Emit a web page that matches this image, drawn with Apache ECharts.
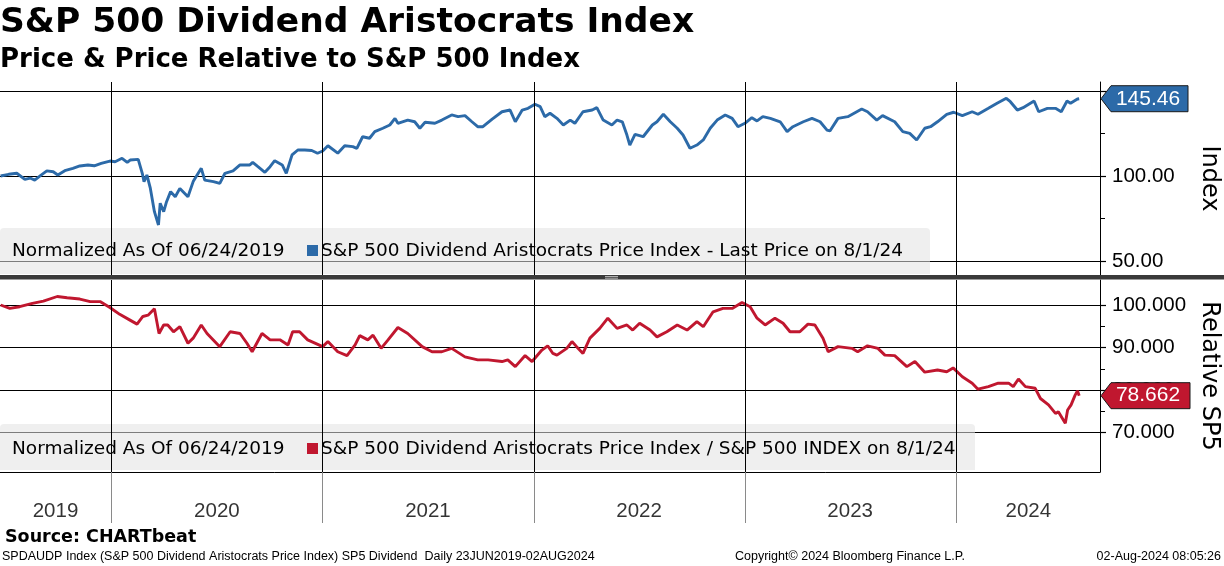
<!DOCTYPE html>
<html><head><meta charset="utf-8">
<script src="https://cdn.jsdelivr.net/npm/echarts@6/dist/echarts.min.js"></script>
<style>html,body{margin:0;padding:0;background:#fff}#c{width:1224px;height:566px}</style>
</head><body><div id="c"></div>
<script>
// ---------- DATA ----------
const priceDates = ['2019-06-24','2019-07-08','2019-07-22','2019-08-05','2019-08-14','2019-08-22','2019-09-02','2019-09-12','2019-09-23','2019-10-01','2019-10-13','2019-10-27','2019-11-08','2019-11-22','2019-12-03','2019-12-15','2019-12-30',
'2020-01-08','2020-01-20','2020-01-29','2020-02-03','2020-02-17','2020-02-24','2020-02-27','2020-03-03','2020-03-09','2020-03-16','2020-03-23','2020-03-26','2020-04-01','2020-04-06','2020-04-13','2020-04-21','2020-04-29','2020-05-13','2020-05-22','2020-06-05','2020-06-11','2020-06-26','2020-07-07','2020-07-16','2020-07-30','2020-08-11','2020-08-28','2020-09-02','2020-09-11','2020-09-23','2020-10-02','2020-10-10','2020-10-23','2020-10-30','2020-11-09','2020-11-19','2020-12-01','2020-12-13','2020-12-23',
'2021-01-01','2021-01-10','2021-01-27','2021-02-08','2021-02-22','2021-03-01','2021-03-11','2021-03-23','2021-04-01','2021-04-15','2021-04-27','2021-05-06','2021-05-11','2021-05-28','2021-06-09','2021-06-18','2021-06-27','2021-07-14','2021-07-26','2021-08-12','2021-08-23','2021-09-04','2021-09-16','2021-09-26','2021-10-05','2021-10-21','2021-11-07','2021-11-21','2021-11-30','2021-12-12','2021-12-22',
'2022-01-03','2022-01-12','2022-01-20','2022-01-29','2022-02-10','2022-02-21','2022-03-05','2022-03-13','2022-03-27','2022-04-12','2022-04-20','2022-05-01','2022-05-16','2022-05-25','2022-06-03','2022-06-11','2022-06-16','2022-06-25','2022-07-09','2022-07-25','2022-08-02','2022-08-13','2022-08-25','2022-09-06','2022-09-16','2022-09-28','2022-10-10','2022-10-21','2022-11-02','2022-11-14','2022-11-28','2022-12-10','2022-12-20',
'2023-01-01','2023-01-13','2023-01-22','2023-02-01','2023-02-14','2023-03-03','2023-03-15','2023-03-25','2023-04-12','2023-04-27','2023-05-11','2023-05-23','2023-05-28','2023-06-11','2023-06-28','2023-07-22','2023-08-01','2023-08-17','2023-08-27','2023-09-17','2023-10-01','2023-10-13','2023-10-25','2023-11-08','2023-11-18','2023-11-30','2023-12-16','2023-12-28',
'2024-01-12','2024-01-29','2024-02-08','2024-02-26','2024-03-12','2024-03-28','2024-04-04','2024-04-16','2024-04-26','2024-05-15','2024-05-23','2024-06-07','2024-06-21','2024-07-01','2024-07-11','2024-07-17','2024-07-29','2024-08-01'];
const priceValues = [100.0,101.0,101.6,98.0,98.8,97.6,100.5,103.0,102.5,100.6,103.1,104.5,105.9,106.5,106.0,107.4,108.8,
108.4,110.4,108.0,109.4,109.8,101.6,96.7,100.6,92.7,79.0,71.2,84.0,79.0,84.9,90.8,87.8,92.7,87.8,96.7,104.5,97.6,96.7,95.7,101.6,103.0,106.5,106.5,108.0,105.5,102.2,105.5,109.0,106.5,101.6,112.4,115.3,115.3,115.0,113.4,
114.7,117.8,113.4,117.8,117.3,116.3,123.1,122.2,126.1,128.1,130.0,133.9,131.0,132.9,131.9,128.1,131.6,131.0,132.9,135.9,134.9,135.5,131.9,129.0,129.0,133.5,137.8,138.8,131.9,138.8,139.8,
142.2,140.8,134.9,136.9,133.9,130.0,132.9,131.0,137.8,138.8,140.2,132.9,130.0,132.9,131.9,124.1,118.2,124.5,123.1,130.0,131.9,136.3,131.9,128.1,124.1,116.3,118.2,121.2,128.1,132.9,135.9,133.9,129.0,
131.0,134.3,132.4,134.9,133.9,131.9,126.1,129.0,131.9,133.9,131.9,127.0,126.5,133.9,134.9,139.4,137.8,132.9,135.5,131.9,126.1,125.1,121.2,128.1,129.0,131.9,136.3,137.5,
135.5,137.8,136.3,139.8,142.8,145.7,143.7,138.8,140.2,144.1,137.8,139.8,139.8,137.8,144.1,142.8,145.3,145.46];

const relDates = ['2019-06-24','2019-07-10','2019-07-27','2019-08-18','2019-09-06','2019-09-30','2019-10-17','2019-11-08','2019-11-26','2019-12-13','2019-12-30',
'2020-01-16','2020-02-02','2020-02-15','2020-02-25','2020-03-05','2020-03-16','2020-03-24','2020-04-01','2020-04-08','2020-04-18','2020-04-29','2020-05-13','2020-05-22','2020-06-05','2020-06-15','2020-07-07','2020-07-25','2020-08-11','2020-08-23','2020-09-01','2020-09-18','2020-10-02','2020-10-19','2020-11-02','2020-11-10','2020-11-22','2020-12-06',
'2021-01-01','2021-01-10','2021-01-27','2021-02-12','2021-02-26','2021-03-06','2021-03-20','2021-03-29','2021-04-12','2021-04-24','2021-05-11','2021-05-28','2021-06-22','2021-07-09','2021-07-26','2021-08-12','2021-09-04','2021-09-26','2021-10-14','2021-11-07','2021-11-17','2021-11-30','2021-12-17','2021-12-29',
'2022-01-15','2022-01-25','2022-02-03','2022-02-10','2022-02-27','2022-03-08','2022-03-16','2022-03-27','2022-04-08','2022-04-25','2022-05-09','2022-05-25','2022-06-11','2022-06-21','2022-07-03','2022-07-21','2022-08-02','2022-08-19','2022-09-06','2022-09-23','2022-10-10','2022-10-21','2022-11-07','2022-11-24','2022-12-10','2022-12-27',
'2023-01-10','2023-01-22','2023-02-05','2023-02-22','2023-03-08','2023-03-20','2023-04-06','2023-04-20','2023-05-02','2023-05-16','2023-05-25','2023-06-11','2023-07-05','2023-07-15','2023-08-01','2023-08-19','2023-08-31','2023-09-17','2023-10-08','2023-10-22','2023-11-08','2023-11-30','2023-12-16','2023-12-27',
'2024-01-12','2024-01-29','2024-02-08','2024-02-26','2024-03-14','2024-04-01','2024-04-09','2024-04-18','2024-04-30','2024-05-17','2024-05-26','2024-06-09','2024-06-21','2024-06-26','2024-07-08','2024-07-12','2024-07-18','2024-07-25','2024-07-29','2024-08-01'];
const relValues = [100.0,99.2,99.6,100.4,100.9,102.0,101.7,101.4,100.8,100.8,99.4,
97.8,96.5,95.5,97.3,97.6,99.1,93.3,95.3,95.3,93.7,94.9,91.0,92.2,95.3,93.3,90.2,93.7,93.3,91.0,89.0,93.3,91.8,91.8,90.6,93.7,93.7,91.8,
90.2,91.4,89.0,88.1,90.6,92.8,91.8,92.9,89.8,91.8,94.7,93.3,90.2,89.0,89.0,89.8,87.8,87.1,87.1,86.7,87.1,85.5,88.1,86.7,
89.4,90.4,88.6,88.2,89.8,91.4,90.2,88.6,92.2,94.5,96.9,94.5,95.3,94.1,95.7,94.1,92.5,93.7,95.3,94.1,96.1,94.9,98.4,99.2,99.2,100.6,
99.6,96.9,95.3,96.9,95.7,93.7,93.7,95.5,95.3,92.2,89.0,90.2,89.8,89.0,90.4,89.8,88.2,88.1,85.5,86.7,84.2,84.7,84.3,85.2,
83.1,81.6,80.2,80.8,81.6,81.6,80.8,82.6,80.8,80.4,78.0,76.5,74.5,74.9,72.2,75.3,76.5,78.8,79.8,78.662];

const yearStarts = ['2020-01-01','2021-01-01','2022-01-01','2023-01-01','2024-01-01'];
const yearLabels = ['2019','2020','2021','2022','2023','2024'];
const yearLabelDates = ['2019-09-27','2020-07-02','2021-07-02','2022-07-02','2023-07-02','2024-05-05'];
const axisStart = '2019-06-23', axisEnd = '2024-09-06';
const priceAxis = {min: 50, max: 150, interval: 50};
const relAxis = {min: 70, max: 100, interval: 10};
const lastPriceText = '145.46', lastRelText = '78.662';

// ---------- CHART ----------
const BLUE = '#2c6aa8', RED = '#c0172f';
const LBL = 'Liberation Sans', VER = 'DejaVu Sans';
function t(s){const p=s.split('-').map(Number);return new Date(p[0],p[1]-1,p[2]).getTime();}
const chart = echarts.init(document.getElementById('c'), null, {renderer:'canvas'});

const gridBase = {left:0, right:124, containLabel:false, outerBoundsMode:'none', show:false};
const grids = [
  Object.assign({}, gridBase, {top:91, height:170}),      // 0 price data
  Object.assign({}, gridBase, {top:82, height:193}),      // 1 price frame
  Object.assign({}, gridBase, {top:305, height:127.5}),   // 2 rel data
  Object.assign({}, gridBase, {top:280, height:192}),     // 3 rel frame
  Object.assign({}, gridBase, {top:472, height:51})       // 4 label strip
];
const xAxes = grids.map((g,i)=>({
  type:'time', gridIndex:i, min:t(axisStart), max:t(axisEnd),
  show: i===3,
  axisLine:{show:i===3, lineStyle:{color:'#000', width:1}},
  axisTick:{show:false}, axisLabel:{show:false}, splitLine:{show:false}
}));
function dataY(i, cfg, digits){
  return {type:'value', gridIndex:i, position:'right', min:cfg.min, max:cfg.max, interval:cfg.interval,
    axisLine:{show:false},
    axisTick:{show:true, length:6, inside:false, lineStyle:{color:'#000', width:1.2}},
    minorTick:{show:true, splitNumber:2, length:5, lineStyle:{color:'#000', width:1}},
    splitLine:{show:true, lineStyle:{color:'#000', width:1}},
    minorSplitLine:{show:false},
    axisLabel:{color:'#000', fontFamily:LBL, fontSize:20.5, margin:12,
      formatter:v=> (v===cfg.max && i===0) ? '' : v.toFixed(digits)}
  };
}
function frameY(i, name){
  return {type:'value', gridIndex:i, position:'right', min:0, max:1,
    axisLine:{show:name!==null, lineStyle:{color:'#000', width:1}},
    axisTick:{show:false}, axisLabel:{show:false}, splitLine:{show:false},
    name:name||'', nameLocation:'middle', nameRotate:-90, nameGap:97,
    nameTextStyle:{color:'#000', fontFamily:VER, fontSize:24}
  };
}
const yAxes = [dataY(0, priceAxis, 2), frameY(1,'Index'), dataY(2, relAxis, 3), frameY(3,'Relative SP5'), frameY(4,null)];

function yearLines(i, color){
  return {type:'line', xAxisIndex:i, yAxisIndex:i, data:[[t(axisStart),0.5]], symbol:'none', silent:true, z:1,
    lineStyle:{opacity:0},
    markLine:{silent:true, symbol:['none','none'], animation:false, label:{show:false},
      lineStyle:{color:color, width:1, type:'solid'}, emphasis:{disabled:true},
      data: yearStarts.map(d=>({xAxis:t(d)}))}
  };
}

const option = {
  animation:false,
  backgroundColor:'#fff',
  grid: grids, xAxis: xAxes, yAxis: yAxes,
  series: [
    yearLines(1,'#000'),
    yearLines(3,'#000'),
    yearLines(4,'#8a8a8a'),
    {type:'line', name:'price', xAxisIndex:0, yAxisIndex:0, showSymbol:false, symbol:'none', clip:false, z:4,
      lineStyle:{color:BLUE, width:2.9}, data: priceDates.map((d,i)=>[t(d), priceValues[i]])},
    {type:'line', name:'rel', xAxisIndex:2, yAxisIndex:2, showSymbol:false, symbol:'none', clip:false, z:4,
      lineStyle:{color:RED, width:2.9}, data: relDates.map((d,i)=>[t(d), relValues[i]])},
    {type:'scatter', xAxisIndex:4, yAxisIndex:4, symbolSize:1, silent:true, clip:false,
      itemStyle:{color:'rgba(0,0,0,0)'},
      label:{show:true, position:'inside', color:'#000', fontFamily:LBL, fontSize:20.5,
        formatter:p=>yearLabels[p.dataIndex]},
      data: yearLabelDates.map(d=>[t(d), 0.22])}
  ]
};
chart.setOption(option);

// ---------- overlays (positions from the chart's own scales) ----------
const axX = chart.convertToPixel({xAxisIndex:0}, t(axisEnd));
const pEnd = chart.convertToPixel({xAxisIndex:0, yAxisIndex:0}, [t(priceDates[priceDates.length-1]), priceValues[priceValues.length-1]]);
const rEnd = chart.convertToPixel({xAxisIndex:2, yAxisIndex:2}, [t(relDates[relDates.length-1]), relValues[relValues.length-1]]);

function tag(y, color, text, w){
  return [
    {type:'polygon', z:20, shape:{points:[[axX+1,y],[axX+11,y-13],[axX+w,y-13],[axX+w,y+13],[axX+11,y+13]]},
      style:{fill:color, stroke:'#1a1a1a', lineWidth:1}},
    {type:'text', z:21, x:axX+48, y:y, style:{text:text, fill:'#fff', font:'21px "'+LBL+'"', align:'center', verticalAlign:'middle'}}
  ];
}
function txt(x,y,s,font,align){return {type:'text', z:10, x:x, y:y, style:{text:s, fill:'#000', font:font, align:align||'left', verticalAlign:'middle'}};}

const graphics = [
  {type:'rect', z:3, shape:{x:0,y:228,width:930,height:46,r:[4,4,0,0]}, style:{fill:'rgba(226,226,226,0.55)'}},
  {type:'rect', z:3, shape:{x:0,y:424,width:975,height:46,r:[4,4,0,0]}, style:{fill:'rgba(226,226,226,0.55)'}},
  txt(12,251.5,'Normalized As Of 06/24/2019','18.5px "'+VER+'"'),
  {type:'rect', z:10, shape:{x:307,y:245,width:11,height:11}, style:{fill:BLUE}},
  txt(321,251.5,'S&P 500 Dividend Aristocrats Price Index - Last Price on 8/1/24','18.5px "'+VER+'"'),
  txt(12,449,'Normalized As Of 06/24/2019','18.5px "'+VER+'"'),
  {type:'rect', z:10, shape:{x:307,y:443,width:11,height:11}, style:{fill:RED}},
  txt(321,449,'S&P 500 Dividend Aristocrats Price Index / S&P 500 INDEX on 8/1/24','18.5px "'+VER+'"'),
  {type:'rect', z:15, shape:{x:0,y:275,width:1224,height:4.5}, style:{fill:'#3a3a3a'}},
  {type:'line', z:16, shape:{x1:605,y1:276.5,x2:618,y2:276.5}, style:{stroke:'#b0b0b0', lineWidth:1}},
  {type:'line', z:16, shape:{x1:605,y1:278.2,x2:618,y2:278.2}, style:{stroke:'#b0b0b0', lineWidth:1}},
  txt(0,23,'S&P 500 Dividend Aristocrats Index','bold 34.5px "'+VER+'"'),
  txt(0,60,'Price & Price Relative to S&P 500 Index','bold 26px "'+VER+'"'),
  txt(5,537,'Source: CHARTbeat','bold 17.5px "'+VER+'"'),
  txt(2,557,'SPDAUDP Index (S&P 500 Dividend Aristocrats Price Index) SP5 Dividend  Daily 23JUN2019-02AUG2024','12.5px "'+LBL+'"'),
  txt(735,557,'Copyright\u00a9 2024 Bloomberg Finance L.P.','12.5px "'+LBL+'"'),
  txt(1221,557,'02-Aug-2024 08:05:26','12.5px "'+LBL+'"','right')
].concat(tag(pEnd[1], BLUE, lastPriceText, 88), tag(rEnd[1], RED, lastRelText, 90));

chart.setOption({graphic: graphics});
</script></body></html>
